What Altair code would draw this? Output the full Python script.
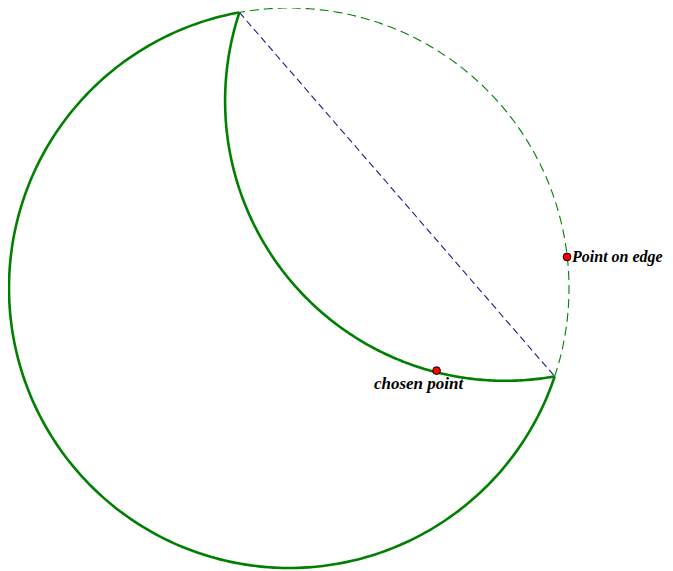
import altair as alt
import numpy as np
import pandas as pd

# Geometry, in a frame where the big circle is the unit circle
center_x = 0.0
center_y = 0.0
radius = 1.0
angle_A = 100.2   # degrees: upper end of the chord
angle_B = -18.4   # degrees: right end of the chord
point_x = [0.993, 0.527]
point_y = [0.111, -0.295]
point_labels = ["Point on edge", "chosen point"]

def arc(cx, cy, a0, a1, n=240):
    t = np.radians(np.linspace(a0, a1, n))
    return pd.DataFrame({"x": cx + radius * np.cos(t), "y": cy + radius * np.sin(t), "i": np.arange(n)})

# chord end points
ax_, ay_ = np.cos(np.radians(angle_A)), np.sin(np.radians(angle_A))
bx_, by_ = np.cos(np.radians(angle_B)), np.sin(np.radians(angle_B))
# reflected circle centre (reflection of the centre across the chord)
rcx, rcy = ax_ + bx_, ay_ + by_
ra = np.degrees(np.arctan2(ay_ - rcy, ax_ - rcx)) % 360
rb = np.degrees(np.arctan2(by_ - rcy, bx_ - rcx)) % 360

solid = arc(center_x, center_y, angle_A, angle_B + 360)
dashed = arc(center_x, center_y, angle_B, angle_A)
inner = arc(rcx, rcy, ra, rb)
chord = pd.DataFrame({"x": [ax_, bx_], "y": [ay_, by_], "i": [0, 1]})
pts = pd.DataFrame({"x": point_x, "y": point_y, "label": point_labels})

S = 280.0
W, H = 657, 563
xmin = -(289 - 8) / S
ymax = (288 - 8) / S
xs = alt.Scale(domain=[xmin, xmin + W / S], nice=False, zero=False)
ys = alt.Scale(domain=[ymax - H / S, ymax], nice=False, zero=False)

def enc(ch):
    return ch.encode(
        x=alt.X("x:Q", scale=xs, axis=None),
        y=alt.Y("y:Q", scale=ys, axis=None),
    )

green = "#008000"
l1 = enc(alt.Chart(solid).mark_line(color=green, strokeWidth=2.6)).encode(order="i:Q")
l2 = enc(alt.Chart(dashed).mark_line(color=green, strokeWidth=1.1, strokeDash=[9, 5])).encode(order="i:Q")
l3 = enc(alt.Chart(inner).mark_line(color=green, strokeWidth=2.6)).encode(order="i:Q")
l4 = enc(alt.Chart(chord).mark_line(color="#1a1a8c", strokeWidth=1.1, strokeDash=[7, 4])).encode(order="i:Q")

dots = enc(alt.Chart(pts).mark_circle(size=60, color="red", stroke="black", strokeWidth=1, opacity=1))

txt1 = enc(alt.Chart(pts[pts.label == "Point on edge"]).mark_text(
    font="Liberation Serif", fontStyle="italic", fontWeight="bold", fontSize=16,
    align="left", baseline="middle", dx=5, color="black")).encode(text="label:N")
txt2 = enc(alt.Chart(pts[pts.label == "chosen point"]).mark_text(
    font="Liberation Serif", fontStyle="italic", fontWeight="bold", fontSize=17,
    align="center", baseline="middle", dx=-18, dy=13, color="black")).encode(text="label:N")

chart = alt.layer(l2, l4, l1, l3, dots, txt1, txt2).properties(
    width=W, height=H, padding=0, autosize=alt.AutoSizeParams(type="none")
).configure_view(strokeWidth=0)

chart.save("out.html", embed_options={"renderer": "svg", "actions": False})
